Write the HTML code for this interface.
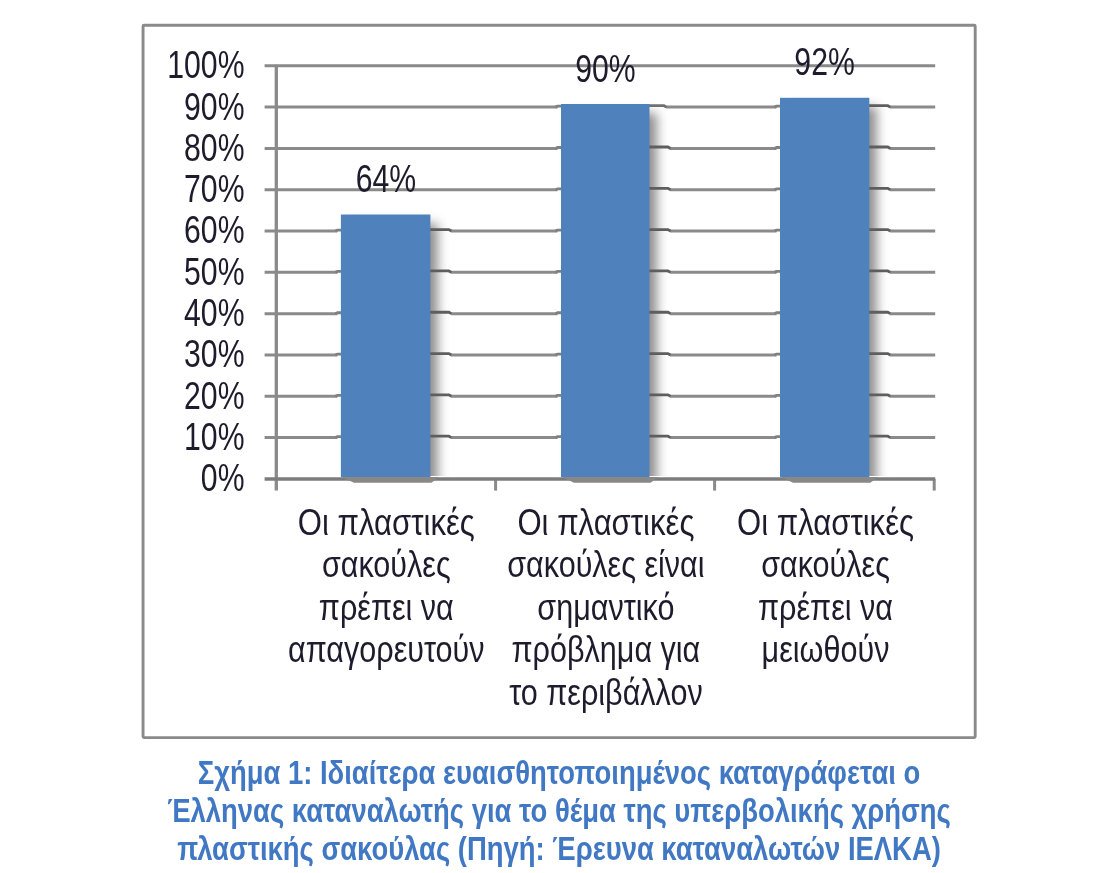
<!DOCTYPE html>
<html lang="el"><head><meta charset="utf-8"><title>Chart</title>
<style>
html,body{margin:0;padding:0;background:#fff;}
body{width:1099px;height:873px;overflow:hidden;font-family:"Liberation Sans",sans-serif;}
svg{display:block;font-family:"Liberation Sans",sans-serif;filter:blur(0.55px);}
.ax{font-size:38px;fill:#1e1c2c;}
.cat{font-size:37.5px;fill:#1e1c2c;}
.cap{font-size:33.8px;font-weight:bold;fill:#4178c4;}
</style></head><body>
<svg width="1099" height="873" viewBox="0 0 1099 873">
<defs>
<filter id="blur" x="-50%" y="-10%" width="200%" height="120%"><feGaussianBlur stdDeviation="5.2"/></filter>
<clipPath id="plotclip"><rect x="270" y="30" width="690" height="446.10"/></clipPath>
</defs>
<rect x="0" y="0" width="1099" height="873" fill="#fff"/>
<rect x="143.05" y="25.2" width="832.15" height="712.4" rx="1" fill="#fff" stroke="#8a8a8a" stroke-width="2.9"/>

<line x1="264.60" y1="437.59" x2="337.40" y2="437.59" stroke="#8a8a8a" stroke-width="3"/>
<line x1="450.90" y1="437.59" x2="557.50" y2="437.59" stroke="#8a8a8a" stroke-width="3"/>
<line x1="670.00" y1="437.59" x2="776.50" y2="437.59" stroke="#8a8a8a" stroke-width="3"/>
<line x1="889.80" y1="437.59" x2="935.2" y2="437.59" stroke="#8a8a8a" stroke-width="3"/>
<line x1="264.60" y1="396.28" x2="337.40" y2="396.28" stroke="#8a8a8a" stroke-width="3"/>
<line x1="450.90" y1="396.28" x2="557.50" y2="396.28" stroke="#8a8a8a" stroke-width="3"/>
<line x1="670.00" y1="396.28" x2="776.50" y2="396.28" stroke="#8a8a8a" stroke-width="3"/>
<line x1="889.80" y1="396.28" x2="935.2" y2="396.28" stroke="#8a8a8a" stroke-width="3"/>
<line x1="264.60" y1="354.97" x2="337.40" y2="354.97" stroke="#8a8a8a" stroke-width="3"/>
<line x1="450.90" y1="354.97" x2="557.50" y2="354.97" stroke="#8a8a8a" stroke-width="3"/>
<line x1="670.00" y1="354.97" x2="776.50" y2="354.97" stroke="#8a8a8a" stroke-width="3"/>
<line x1="889.80" y1="354.97" x2="935.2" y2="354.97" stroke="#8a8a8a" stroke-width="3"/>
<line x1="264.60" y1="313.66" x2="337.40" y2="313.66" stroke="#8a8a8a" stroke-width="3"/>
<line x1="450.90" y1="313.66" x2="557.50" y2="313.66" stroke="#8a8a8a" stroke-width="3"/>
<line x1="670.00" y1="313.66" x2="776.50" y2="313.66" stroke="#8a8a8a" stroke-width="3"/>
<line x1="889.80" y1="313.66" x2="935.2" y2="313.66" stroke="#8a8a8a" stroke-width="3"/>
<line x1="264.60" y1="272.35" x2="337.40" y2="272.35" stroke="#8a8a8a" stroke-width="3"/>
<line x1="450.90" y1="272.35" x2="557.50" y2="272.35" stroke="#8a8a8a" stroke-width="3"/>
<line x1="670.00" y1="272.35" x2="776.50" y2="272.35" stroke="#8a8a8a" stroke-width="3"/>
<line x1="889.80" y1="272.35" x2="935.2" y2="272.35" stroke="#8a8a8a" stroke-width="3"/>
<line x1="264.60" y1="231.04" x2="337.40" y2="231.04" stroke="#8a8a8a" stroke-width="3"/>
<line x1="450.90" y1="231.04" x2="557.50" y2="231.04" stroke="#8a8a8a" stroke-width="3"/>
<line x1="670.00" y1="231.04" x2="776.50" y2="231.04" stroke="#8a8a8a" stroke-width="3"/>
<line x1="889.80" y1="231.04" x2="935.2" y2="231.04" stroke="#8a8a8a" stroke-width="3"/>
<line x1="264.60" y1="189.73" x2="557.50" y2="189.73" stroke="#8a8a8a" stroke-width="3"/>
<line x1="670.00" y1="189.73" x2="776.50" y2="189.73" stroke="#8a8a8a" stroke-width="3"/>
<line x1="889.80" y1="189.73" x2="935.2" y2="189.73" stroke="#8a8a8a" stroke-width="3"/>
<line x1="264.60" y1="148.42" x2="557.50" y2="148.42" stroke="#8a8a8a" stroke-width="3"/>
<line x1="670.00" y1="148.42" x2="776.50" y2="148.42" stroke="#8a8a8a" stroke-width="3"/>
<line x1="889.80" y1="148.42" x2="935.2" y2="148.42" stroke="#8a8a8a" stroke-width="3"/>
<line x1="264.60" y1="107.11" x2="557.50" y2="107.11" stroke="#8a8a8a" stroke-width="3"/>
<line x1="666.00" y1="107.11" x2="776.50" y2="107.11" stroke="#8a8a8a" stroke-width="3"/>
<line x1="889.80" y1="107.11" x2="935.2" y2="107.11" stroke="#8a8a8a" stroke-width="3"/>
<line x1="264.60" y1="65.80" x2="935.2" y2="65.80" stroke="#8a8a8a" stroke-width="3"/>
<line x1="276.3" y1="64.80" x2="276.3" y2="490.6" stroke="#8a8a8a" stroke-width="3.3"/>
<line x1="495.6" y1="478.90" x2="495.6" y2="490.6" stroke="#8a8a8a" stroke-width="3"/>
<line x1="714.6" y1="478.90" x2="714.6" y2="490.6" stroke="#8a8a8a" stroke-width="3"/>
<line x1="934.2" y1="478.90" x2="934.2" y2="490.6" stroke="#8a8a8a" stroke-width="3"/>
<line x1="264.6" y1="479.00" x2="935.2" y2="479.00" stroke="#7c7c7c" stroke-width="3.3"/>
<g clip-path="url(#plotclip)">
<rect x="350.9" y="223.5" width="87.00" height="284.40" fill="#000" fill-opacity="0.44" filter="url(#blur)"/>
<rect x="571.0" y="113.0" width="86.00" height="394.90" fill="#000" fill-opacity="0.44" filter="url(#blur)"/>
<rect x="790.0" y="106.8" width="86.80" height="401.10" fill="#000" fill-opacity="0.44" filter="url(#blur)"/>
</g>
<polyline points="429.90,436.19 448.90,436.19 451.30,437.59" fill="none" stroke="#5e5e5e" stroke-width="2.8"/>
<polyline points="335.40,437.59 337.40,436.69 341.90,436.69" fill="none" stroke="#808080" stroke-width="2.8"/>
<polyline points="429.90,394.88 448.90,394.88 451.30,396.28" fill="none" stroke="#5e5e5e" stroke-width="2.8"/>
<polyline points="335.40,396.28 337.40,395.38 341.90,395.38" fill="none" stroke="#808080" stroke-width="2.8"/>
<polyline points="429.90,353.57 448.90,353.57 451.30,354.97" fill="none" stroke="#5e5e5e" stroke-width="2.8"/>
<polyline points="335.40,354.97 337.40,354.07 341.90,354.07" fill="none" stroke="#808080" stroke-width="2.8"/>
<polyline points="429.90,312.26 448.90,312.26 451.30,313.66" fill="none" stroke="#5e5e5e" stroke-width="2.8"/>
<polyline points="335.40,313.66 337.40,312.76 341.90,312.76" fill="none" stroke="#808080" stroke-width="2.8"/>
<polyline points="429.90,270.95 448.90,270.95 451.30,272.35" fill="none" stroke="#5e5e5e" stroke-width="2.8"/>
<polyline points="335.40,272.35 337.40,271.45 341.90,271.45" fill="none" stroke="#808080" stroke-width="2.8"/>
<polyline points="429.90,229.64 448.90,229.64 451.30,231.04" fill="none" stroke="#5e5e5e" stroke-width="2.8"/>
<polyline points="335.40,231.04 337.40,230.14 341.90,230.14" fill="none" stroke="#808080" stroke-width="2.8"/>
<polygon points="341.9,477.00 439.4,477.00 431.4,482.70 353.9,482.70" fill="#8a8886"/>
<rect x="340.9" y="214.5" width="89.50" height="262.50" fill="#4f81bd"/>
<polyline points="649.00,436.19 668.00,436.19 670.40,437.59" fill="none" stroke="#5e5e5e" stroke-width="2.8"/>
<polyline points="555.50,437.59 557.50,436.69 562.00,436.69" fill="none" stroke="#808080" stroke-width="2.8"/>
<polyline points="649.00,394.88 668.00,394.88 670.40,396.28" fill="none" stroke="#5e5e5e" stroke-width="2.8"/>
<polyline points="555.50,396.28 557.50,395.38 562.00,395.38" fill="none" stroke="#808080" stroke-width="2.8"/>
<polyline points="649.00,353.57 668.00,353.57 670.40,354.97" fill="none" stroke="#5e5e5e" stroke-width="2.8"/>
<polyline points="555.50,354.97 557.50,354.07 562.00,354.07" fill="none" stroke="#808080" stroke-width="2.8"/>
<polyline points="649.00,312.26 668.00,312.26 670.40,313.66" fill="none" stroke="#5e5e5e" stroke-width="2.8"/>
<polyline points="555.50,313.66 557.50,312.76 562.00,312.76" fill="none" stroke="#808080" stroke-width="2.8"/>
<polyline points="649.00,270.95 668.00,270.95 670.40,272.35" fill="none" stroke="#5e5e5e" stroke-width="2.8"/>
<polyline points="555.50,272.35 557.50,271.45 562.00,271.45" fill="none" stroke="#808080" stroke-width="2.8"/>
<polyline points="649.00,229.64 668.00,229.64 670.40,231.04" fill="none" stroke="#5e5e5e" stroke-width="2.8"/>
<polyline points="555.50,231.04 557.50,230.14 562.00,230.14" fill="none" stroke="#808080" stroke-width="2.8"/>
<polyline points="649.00,188.33 668.00,188.33 670.40,189.73" fill="none" stroke="#5e5e5e" stroke-width="2.8"/>
<polyline points="555.50,189.73 557.50,188.83 562.00,188.83" fill="none" stroke="#808080" stroke-width="2.8"/>
<polyline points="649.00,147.02 668.00,147.02 670.40,148.42" fill="none" stroke="#5e5e5e" stroke-width="2.8"/>
<polyline points="555.50,148.42 557.50,147.52 562.00,147.52" fill="none" stroke="#808080" stroke-width="2.8"/>
<polyline points="649.00,105.71 664.00,105.71 666.40,107.11" fill="none" stroke="#707070" stroke-width="2.8"/>
<polyline points="555.50,107.11 557.50,106.21 562.00,106.21" fill="none" stroke="#808080" stroke-width="2.8"/>
<polygon points="562.0,477.00 658.5,477.00 650.5,482.70 574.0,482.70" fill="#8a8886"/>
<rect x="561.0" y="104.0" width="88.50" height="373.00" fill="#4f81bd"/>
<polyline points="868.80,436.19 887.80,436.19 890.20,437.59" fill="none" stroke="#5e5e5e" stroke-width="2.8"/>
<polyline points="774.50,437.59 776.50,436.69 781.00,436.69" fill="none" stroke="#808080" stroke-width="2.8"/>
<polyline points="868.80,394.88 887.80,394.88 890.20,396.28" fill="none" stroke="#5e5e5e" stroke-width="2.8"/>
<polyline points="774.50,396.28 776.50,395.38 781.00,395.38" fill="none" stroke="#808080" stroke-width="2.8"/>
<polyline points="868.80,353.57 887.80,353.57 890.20,354.97" fill="none" stroke="#5e5e5e" stroke-width="2.8"/>
<polyline points="774.50,354.97 776.50,354.07 781.00,354.07" fill="none" stroke="#808080" stroke-width="2.8"/>
<polyline points="868.80,312.26 887.80,312.26 890.20,313.66" fill="none" stroke="#5e5e5e" stroke-width="2.8"/>
<polyline points="774.50,313.66 776.50,312.76 781.00,312.76" fill="none" stroke="#808080" stroke-width="2.8"/>
<polyline points="868.80,270.95 887.80,270.95 890.20,272.35" fill="none" stroke="#5e5e5e" stroke-width="2.8"/>
<polyline points="774.50,272.35 776.50,271.45 781.00,271.45" fill="none" stroke="#808080" stroke-width="2.8"/>
<polyline points="868.80,229.64 887.80,229.64 890.20,231.04" fill="none" stroke="#5e5e5e" stroke-width="2.8"/>
<polyline points="774.50,231.04 776.50,230.14 781.00,230.14" fill="none" stroke="#808080" stroke-width="2.8"/>
<polyline points="868.80,188.33 887.80,188.33 890.20,189.73" fill="none" stroke="#5e5e5e" stroke-width="2.8"/>
<polyline points="774.50,189.73 776.50,188.83 781.00,188.83" fill="none" stroke="#808080" stroke-width="2.8"/>
<polyline points="868.80,147.02 887.80,147.02 890.20,148.42" fill="none" stroke="#5e5e5e" stroke-width="2.8"/>
<polyline points="774.50,148.42 776.50,147.52 781.00,147.52" fill="none" stroke="#808080" stroke-width="2.8"/>
<polyline points="868.80,105.71 887.80,105.71 890.20,107.11" fill="none" stroke="#5e5e5e" stroke-width="2.8"/>
<polyline points="774.50,107.11 776.50,106.21 781.00,106.21" fill="none" stroke="#808080" stroke-width="2.8"/>
<polygon points="781.0,477.00 878.3,477.00 870.3,482.70 793.0,482.70" fill="#8a8886"/>
<rect x="780.0" y="97.8" width="89.30" height="379.20" fill="#4f81bd"/>
<text class="ax" text-anchor="end" transform="translate(244.5,491.30) scale(0.795,1)">0%</text>
<text class="ax" text-anchor="end" transform="translate(244.5,449.99) scale(0.795,1)">10%</text>
<text class="ax" text-anchor="end" transform="translate(244.5,408.68) scale(0.795,1)">20%</text>
<text class="ax" text-anchor="end" transform="translate(244.5,367.37) scale(0.795,1)">30%</text>
<text class="ax" text-anchor="end" transform="translate(244.5,326.06) scale(0.795,1)">40%</text>
<text class="ax" text-anchor="end" transform="translate(244.5,284.75) scale(0.795,1)">50%</text>
<text class="ax" text-anchor="end" transform="translate(244.5,243.44) scale(0.795,1)">60%</text>
<text class="ax" text-anchor="end" transform="translate(244.5,202.13) scale(0.795,1)">70%</text>
<text class="ax" text-anchor="end" transform="translate(244.5,160.82) scale(0.795,1)">80%</text>
<text class="ax" text-anchor="end" transform="translate(244.5,119.51) scale(0.795,1)">90%</text>
<text class="ax" text-anchor="end" transform="translate(244.5,78.20) scale(0.795,1)">100%</text>
<text class="ax" text-anchor="middle" transform="translate(385.9,192.4) scale(0.795,1)">64%</text>
<text class="ax" text-anchor="middle" transform="translate(605.5,82.4) scale(0.795,1)">90%</text>
<text class="ax" text-anchor="middle" transform="translate(824.6,74.6) scale(0.795,1)">92%</text>
<text class="cat" text-anchor="middle" transform="translate(386.3,535.00) scale(0.829,1)">Οι πλαστικές</text>
<text class="cat" text-anchor="middle" transform="translate(386.3,577.40) scale(0.815,1)">σακούλες</text>
<text class="cat" text-anchor="middle" transform="translate(386.3,619.80) scale(0.815,1)">πρέπει να</text>
<text class="cat" text-anchor="middle" transform="translate(386.3,662.20) scale(0.815,1)">απαγορευτούν</text>
<text class="cat" text-anchor="middle" transform="translate(605.9,535.00) scale(0.829,1)">Οι πλαστικές</text>
<text class="cat" text-anchor="middle" transform="translate(605.9,577.40) scale(0.815,1)">σακούλες είναι</text>
<text class="cat" text-anchor="middle" transform="translate(605.9,619.80) scale(0.815,1)">σημαντικό</text>
<text class="cat" text-anchor="middle" transform="translate(605.9,662.20) scale(0.815,1)">πρόβλημα για</text>
<text class="cat" text-anchor="middle" transform="translate(605.9,704.60) scale(0.815,1)">το περιβάλλον</text>
<text class="cat" text-anchor="middle" transform="translate(825.5,535.00) scale(0.829,1)">Οι πλαστικές</text>
<text class="cat" text-anchor="middle" transform="translate(825.5,577.40) scale(0.815,1)">σακούλες</text>
<text class="cat" text-anchor="middle" transform="translate(825.5,619.80) scale(0.815,1)">πρέπει να</text>
<text class="cat" text-anchor="middle" transform="translate(825.5,662.20) scale(0.815,1)">μειωθούν</text>
<text class="cap" text-anchor="middle" transform="translate(559,783.70) scale(0.812,1)">Σχήμα 1: Ιδιαίτερα ευαισθητοποιημένος καταγράφεται ο</text>
<text class="cap" text-anchor="middle" transform="translate(559,821.70) scale(0.812,1)">Έλληνας καταναλωτής για το θέμα της υπερβολικής χρήσης</text>
<text class="cap" text-anchor="middle" transform="translate(559,859.70) scale(0.812,1)">πλαστικής σακούλας (Πηγή: Έρευνα καταναλωτών ΙΕΛΚΑ)</text>
</svg></body></html>
